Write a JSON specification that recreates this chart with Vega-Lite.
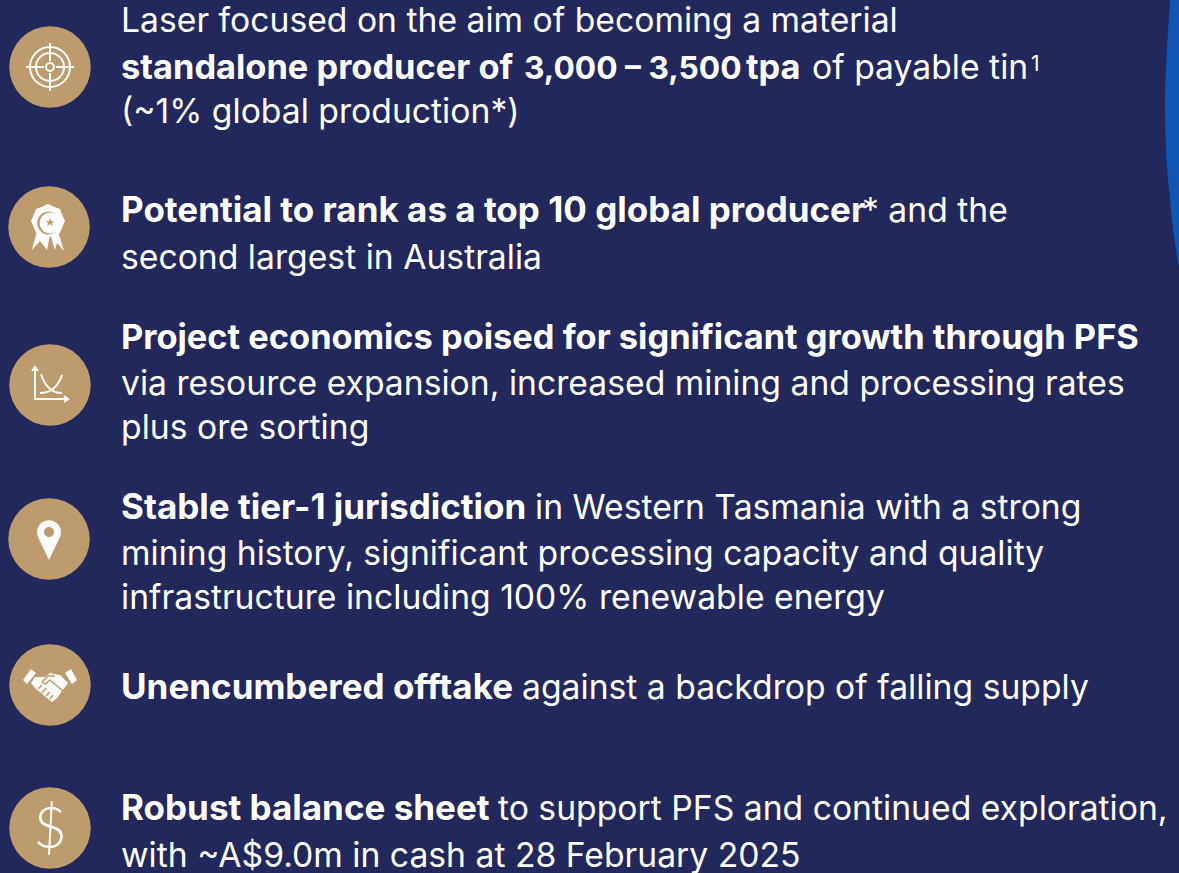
{"$schema":"https://vega.github.io/schema/vega-lite/v6.json","width":1179,"height":873,"padding":0,"autosize":{"type":"none"},"background":"#22275c","config":{"view":{"stroke":null}},
"resolve":{"scale":{"shape":"independent"}},
"datasets":{
"band":[{"x":1170,"y":0},{"x":1167,"y":50},{"x":1165,"y":100},{"x":1166,"y":150},{"x":1170,"y":200},{"x":1176,"y":250},{"x":1179,"y":268}],
"badges":[{"icon":"target","x":50,"y":67},{"icon":"award","x":49,"y":227},{"icon":"trend","x":50,"y":385},{"icon":"pin","x":49,"y":539},{"icon":"hands","x":50,"y":685},{"icon":"dollar","x":50,"y":828}],
"regular":[
{"x":121,"y":32,"text":"Laser focused on the aim of becoming a material"},
{"x":812,"y":79,"text":"of payable tin"},
{"x":121,"y":123,"text":"(~1% global production*)"},
{"x":862,"y":222,"text":"* and the"},
{"x":121,"y":269,"text":"second largest in Australia"},
{"x":121,"y":395,"text":"via resource expansion, increased mining and processing rates"},
{"x":121,"y":439,"text":"plus ore sorting"},
{"x":535,"y":519,"text":"in Western Tasmania with a strong"},
{"x":121,"y":565,"text":"mining history, significant processing capacity and quality"},
{"x":121,"y":609,"text":"infrastructure including 100% renewable energy"},
{"x":522,"y":699,"text":"against a backdrop of falling supply"},
{"x":498,"y":820,"text":"to support PFS and continued exploration,"},
{"x":121,"y":867,"text":"with ~A$9.0m in cash at 28 February 2025"}],
"bold":[
{"x":121,"y":79,"text":"standalone producer of"},
{"x":746,"y":79,"text":"tpa"},
{"x":121,"y":349,"text":"Project economics poised for significant growth through PFS"}],
"boldWide":[
{"x":121,"y":222,"text":"Potential to rank as a top 10 global producer"},
{"x":121,"y":519,"text":"Stable tier-1 jurisdiction"},
{"x":121,"y":699,"text":"Unencumbered offtake"},
{"x":121,"y":820,"text":"Robust balance sheet"}],
"boldNum":[{"x":524,"y":79,"text":"3,000 – 3,500"}],
"sup":[{"x":1031,"y":71,"text":"1"}],
"dollar":[{"x":50,"y":848,"text":"$"}]
},
"encoding":{"x":{"field":"x","type":"quantitative","scale":{"domain":[0,1179],"nice":false,"zero":false},"axis":null},"y":{"field":"y","type":"quantitative","scale":{"domain":[873,0],"nice":false,"zero":false},"axis":null}},
"layer":[
{"data":{"name":"band"},"mark":{"type":"area","orient":"horizontal","color":"#1156b4","interpolate":"monotone","clip":true},"encoding":{"x2":{"datum":1179}}},
{"data":{"name":"badges"},"mark":{"type":"circle","color":"#bd9b6c","opacity":1,"size":6640}},
{"data":{"name":"badges"},"transform":[{"filter":"datum.icon=='award'||datum.icon=='pin'||datum.icon=='hands'"}],"mark":{"type":"point","filled":true,"color":"#ffffff","opacity":1,"size":4},"encoding":{"shape":{"field":"icon","type":"nominal","legend":null,"scale":{"domain":["award","pin","hands"],"range":[
"M16,-6L13.3,-0.1L11,6L4.9,8.3L-1,11L-6.9,8.3L-13,6L-15.3,-0.1L-18,-6L-15.3,-11.9L-13,-18L-6.9,-20.3L-1,-23L4.9,-20.3L11,-18L13.3,-11.9ZM1,8L-2,23L-9,14L-17,23L-12,4ZM9,4L15,24L8,16L6,23L1,6Z",
"M0,21L-11,-2A12,12 0 1,1 11,-2Z",
"M-27,-5L-19,-16L-14,-12L-23,-1ZM27,-5L21,-16L15,-12L22,-1ZM-15,-8L-5,-8L0,-12L10,-10L18,-2L7,13L2,17L-3,13L-15,3L-19,-2Z"]}}}},
{"data":{"name":"badges"},"transform":[{"filter":"datum.icon=='award'||datum.icon=='pin'"}],"mark":{"type":"point","filled":true,"color":"#bd9b6c","opacity":1,"size":4},"encoding":{"shape":{"field":"icon","type":"nominal","legend":null,"scale":{"domain":["award","pin"],"range":[
"M8,-12A11.5,11.5 0 1,0 8,4A10.5,10.5 0 1,1 8,-12ZM1,-9L2,-6L5,-6L3,-4L4,-1L1,-3L-2,-1L-1,-4L-3,-6L0,-6Z",
"M-5,-7A5,5 0 1,1 5,-7A5,5 0 1,1 -5,-7Z"]}}}},
{"data":{"name":"badges"},"transform":[{"filter":"datum.icon=='hands'"}],"mark":{"type":"point","filled":false,"color":"#bd9b6c","strokeWidth":1.5,"opacity":1,"size":4,"shape":"M-8,-3L-2,-9L5,-9M-8,-3L-5,-1L0,-5L13,6M-12,4L-8,0M-8,8L-4,3M-4,11L0,7M0,14L3,10"}},
{"data":{"name":"badges"},"transform":[{"filter":"datum.icon=='target'||datum.icon=='trend'"}],"mark":{"type":"point","filled":false,"color":"#ffffff","strokeWidth":2,"opacity":1,"size":4},"encoding":{"shape":{"field":"icon","type":"nominal","legend":null,"scale":{"domain":["target","trend"],"range":[
"M-20,0A20,20 0 1,1 20,0A20,20 0 1,1 -20,0ZM-14,0A14,14 0 1,1 14,0A14,14 0 1,1 -14,0ZM-4,0A4,4 0 1,1 4,0A4,4 0 1,1 -4,0ZM-24,0L-6,0M6,0L24,0M0,-24L0,-6M0,6L0,24",
"M-18,-14L-15,-18L-12,-14M-15,-18L-15,14L18,14M14,11L18,14L14,17M-9,-11Q-3,8 12,8M12,-10Q6,8 -10,8"]}}}},
{"data":{"name":"dollar"},"mark":{"type":"text","align":"center","baseline":"alphabetic","font":"Lato","fontWeight":300,"fontSize":58,"color":"#ffffff"},"encoding":{"text":{"field":"text"}}},
{"data":{"name":"regular"},"mark":{"type":"text","align":"left","baseline":"alphabetic","font":"Inter","fontSize":33.7,"color":"#ffffff"},"encoding":{"text":{"field":"text"}}},
{"data":{"name":"bold"},"mark":{"type":"text","align":"left","baseline":"alphabetic","font":"Inter","fontWeight":700,"fontSize":34.4,"color":"#ffffff"},"encoding":{"text":{"field":"text"}}},
{"data":{"name":"boldWide"},"mark":{"type":"text","align":"left","baseline":"alphabetic","font":"Inter","fontWeight":700,"fontSize":35,"color":"#ffffff"},"encoding":{"text":{"field":"text"}}},
{"data":{"name":"boldNum"},"mark":{"type":"text","align":"left","baseline":"alphabetic","font":"Inter","fontWeight":700,"fontSize":31.7,"color":"#ffffff"},"encoding":{"text":{"field":"text"}}},
{"data":{"name":"sup"},"mark":{"type":"text","align":"left","baseline":"alphabetic","font":"Inter","fontSize":21,"color":"#ffffff"},"encoding":{"text":{"field":"text"}}}
]}
